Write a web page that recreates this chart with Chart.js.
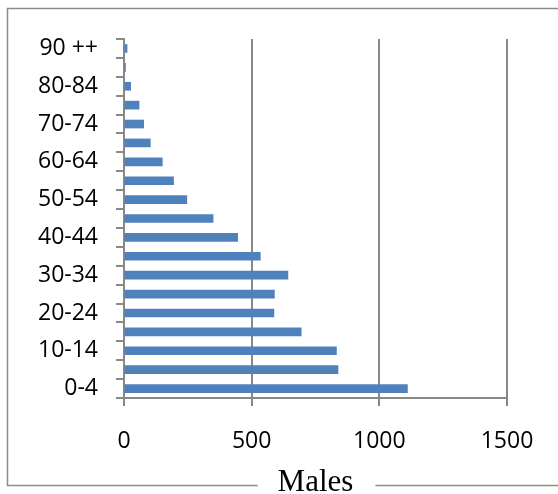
<!DOCTYPE html>
<html>
<head>
<meta charset="utf-8">
<script src="https://cdn.jsdelivr.net/npm/chart.js@4/dist/chart.umd.min.js"></script>
<style>
  html, body { margin: 0; padding: 0; background: #fff; }
</style>
</head>
<body>
<canvas id="males-chart" width="558" height="494"></canvas>
<script>
// age groups from the bottom bar up
const ageGroups = ['0-4', '5-9', '10-14', '15-19', '20-24', '25-29', '30-34', '35-39', '40-44',
  '45-49', '50-54', '55-59', '60-64', '65-69', '70-74', '75-79', '80-84', '85-89', '90 ++'];
const males = [1110, 838, 832, 694, 587, 589, 642, 534, 445, 349, 246, 194, 150, 103, 77, 59, 26, 6, 12];
const xTicks = [0, 500, 1000, 1500];
const titleText = 'Males';

const gridGray = '#888888';
const titleFont = { family: '"Liberation Serif", "Times New Roman", serif', size: 31, lineHeight: 0.7 };

// outer frame, with a gap where the axis title sits on the bottom edge
const framePlugin = {
  id: 'frame',
  beforeDraw(chart) {
    const ctx = chart.ctx;
    const area = chart.chartArea;
    ctx.save();
    ctx.font = titleFont.size + 'px ' + titleFont.family;
    const tw = ctx.measureText(titleText).width;
    const cx = (area.left + area.right) / 2;
    ctx.strokeStyle = '#8c8c8c';
    ctx.lineWidth = 1.5;
    ctx.beginPath();
    ctx.moveTo(cx - tw / 2 - 20, 485.5);
    ctx.lineTo(7.5, 485.5);
    ctx.lineTo(7.5, 8.5);
    ctx.lineTo(560, 8.5);
    ctx.moveTo(cx + tw / 2 + 22, 485.5);
    ctx.lineTo(560, 485.5);
    ctx.stroke();
    ctx.restore();
  }
};

const ctx = document.getElementById('males-chart').getContext('2d');
new Chart(ctx, {
  type: 'bar',
  data: {
    labels: ageGroups,
    datasets: [{
      label: titleText,
      data: males,
      backgroundColor: '#4f81bd',
      borderWidth: 0,
      barThickness: 8
    }]
  },
  options: {
    indexAxis: 'y',
    responsive: false,
    animation: false,
    layout: { padding: { top: 39, right: 51, left: 0, bottom: 0 } },
    plugins: {
      legend: { display: false },
      tooltip: { enabled: false }
    },
    scales: {
      x: {
        type: 'linear',
        min: 0,
        max: 1500,
        afterBuildTicks: (scale) => { scale.ticks = xTicks.map(v => ({ value: v })); },
        afterFit: (scale) => { scale.height = 96; },
        grid: { color: gridGray, lineWidth: 2, tickLength: 8 },
        border: { color: gridGray, width: 2 },
        ticks: {
          color: '#000',
          padding: 22,
          font: { family: '"Open Sans", sans-serif', size: 23 },
          callback: (value) => String(value)
        },
        title: {
          display: true,
          text: titleText,
          color: '#000',
          font: titleFont,
          padding: { top: 0, bottom: 0 }
        }
      },
      y: {
        reverse: true,
        afterFit: (scale) => { scale.width = 124; },
        grid: { drawOnChartArea: false, offset: true, color: gridGray, lineWidth: 2, tickLength: 8 },
        border: { color: gridGray, width: 2 },
        ticks: {
          autoSkip: false,
          color: '#000',
          padding: 18,
          font: { family: '"Open Sans", sans-serif', size: 23 },
          callback: function (value, index) {
            return index % 2 === 0 ? this.getLabelForValue(value) : '';
          }
        }
      }
    }
  },
  plugins: [framePlugin]
});
</script>
</body>
</html>
